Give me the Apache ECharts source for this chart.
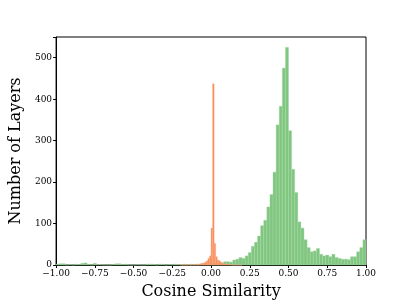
<!DOCTYPE html>
<html><head><meta charset="utf-8">
<script src="https://cdn.jsdelivr.net/npm/echarts@6/dist/echarts.min.js"></script>
<style>html,body{margin:0;padding:0;background:#fff}#c{width:407px;height:305px}</style>
</head><body><div id="c"></div>
<script>
// Green histogram: 100 bins of width 0.02 from -1 to 1
const greenStart = -1.0;
const greenWidth = 0.02;
const greenCounts = [
  2,3,3,0,1,0,2,1,4,5,
  1,0,4,1,1,0,0,0,1,3,
  3,1,2,0,0,0,1,0,0,2,
  2,2,0,2,2,0,1,1,2,1,
  1,2,1,2,1,2,2,3,3,4,
  4,4,4,5,8,8,7,12,14,18,
  16,22,30,45,55,70,95,108,140,170,
  224,338,383,475,525,324,231,175,104,89,
  61,42,32,34,40,26,22,24,20,26,
  18,16,14,14,13,20,20,32,42,61
];
// Orange histogram: 40 bins of width 0.01 from -0.2 to 0.2
const orangeStart = -0.2;
const orangeWidth = 0.01;
const orangeCounts = [
  1,0,0,0,0,1,0,0,1,0,
  1,0,2,3,4,5,7,10,16,22,
  89,437,52,20,12,10,7,4,3,2,
  2,1,1,0,0,0,0,0,0,0
];
const xTicks = [-1, -0.75, -0.5, -0.25, 0, 0.25, 0.5, 0.75, 1];
const yTicks = [0, 100, 200, 300, 400, 500];

function toData(start, width, counts) {
  return counts.map((c, i) => [start + i * width, start + (i + 1) * width, c]);
}

function rectItem(fill, stroke) {
  return function (params, api) {
    const p0 = api.coord([api.value(0), api.value(2)]);
    const p1 = api.coord([api.value(1), 0]);
    return {
      type: 'rect',
      shape: { x: p0[0], y: p0[1], width: p1[0] - p0[0], height: p1[1] - p0[1] },
      style: { fill: fill, stroke: stroke, lineWidth: 0.4 }
    };
  };
}

const fmt = v => {
  const s = Math.abs(v).toFixed(2);
  return v < 0 ? '\u2212' + s : s;
};

const chart = echarts.init(document.getElementById('c'), null, { renderer: 'canvas' });
chart.setOption({
  animation: false,
  backgroundColor: '#fff',
  grid: { left: 52, right: 41, top: 37, bottom: 34, show: true, borderColor: '#000', borderWidth: 1, containLabel: false },
  xAxis: {
    type: 'value', min: -1, max: 1, interval: 0.25,
    name: 'Cosine Similarity', nameLocation: 'middle', nameGap: 19,
    nameTextStyle: { fontFamily: 'DejaVu Serif', fontSize: 16, color: '#000' },
    axisLine: { show: true, onZero: false, lineStyle: { color: '#000', width: 1 } },
    axisTick: { show: true, length: 3, lineStyle: { color: '#000' } },
    axisLabel: { fontFamily: 'DejaVu Serif', fontSize: 9, color: '#000', margin: 4, formatter: fmt, showMinLabel: true, showMaxLabel: true },
    splitLine: { show: false }
  },
  yAxis: {
    type: 'value', min: 0, max: 550, interval: 100,
    name: 'Number of Layers', nameLocation: 'middle', nameGap: 26,
    nameTextStyle: { fontFamily: 'DejaVu Serif', fontSize: 16, color: '#000' },
    axisLine: { show: true, onZero: false, lineStyle: { color: '#000', width: 1 } },
    axisTick: { show: true, length: 3, lineStyle: { color: '#000' } },
    axisLabel: { fontFamily: 'DejaVu Serif', fontSize: 9, color: '#000', margin: 4,
      formatter: v => (yTicks.indexOf(v) >= 0 ? String(v) : '') },
    splitLine: { show: false }
  },
  series: [
    { type: 'custom', renderItem: rectItem('#80c680', '#a6d8a6'), data: toData(greenStart, greenWidth, greenCounts), encode: { x: [0, 1], y: 2 }, z: 2 },
    { type: 'custom', renderItem: rectItem('#f98c56', '#fbab85'), data: toData(orangeStart, orangeWidth, orangeCounts), encode: { x: [0, 1], y: 2 }, z: 3 }
  ]
});
</script></body></html>
